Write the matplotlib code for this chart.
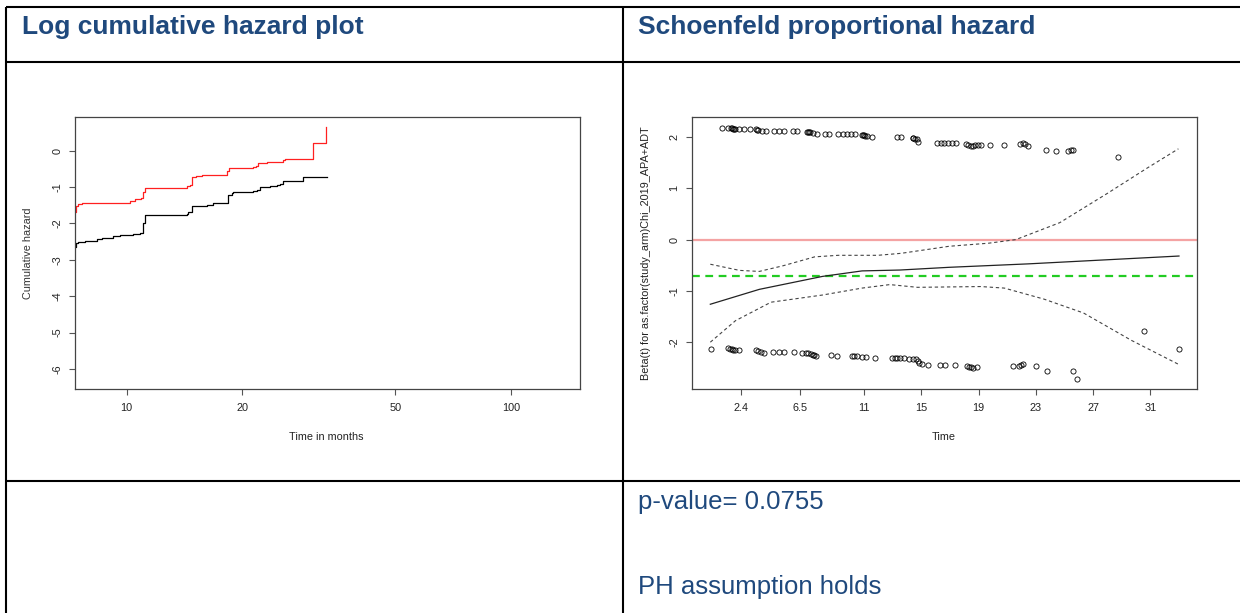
import matplotlib
matplotlib.use("Agg")
import matplotlib.pyplot as plt
from matplotlib.lines import Line2D
from matplotlib.ticker import FixedLocator, FixedFormatter, NullLocator

plt.rcParams['font.family'] = ['Liberation Sans', 'DejaVu Sans']

W, H = 1240, 613

# ---------------- data ----------------
# Log cumulative hazard (log scale time)
red_t = [7.32, 7.39, 7.49, 7.64, 8.62, 10.21, 10.52, 10.89, 11.02, 11.17, 12.98, 14.34, 14.63,
         14.78, 15.20, 15.69, 18.23, 18.52, 21.38, 21.70, 22.03, 23.15, 25.59, 25.85, 30.50, 33.04]
red_v = [-1.68, -1.525, -1.47, -1.452, -1.434, -1.388, -1.342, -1.30, -1.15, -1.039, -1.021, -0.975, -0.948,
         -0.719, -0.70, -0.673, -0.56, -0.490, -0.462, -0.42, -0.353, -0.307, -0.261, -0.234, 0.197, 0.636]
black_t = [7.32, 7.39, 7.49, 7.80, 8.37, 8.62, 9.24, 9.62, 10.42, 10.84, 11.02, 11.17, 14.34, 14.48, 14.78,
           16.17, 16.83, 17.51, 18.40, 18.77, 18.96, 21.38, 21.81, 22.25, 23.62, 24.59, 25.08, 25.59, 28.84, 33.31]
black_v = [-2.64, -2.55, -2.50, -2.48, -2.44, -2.39, -2.35, -2.32, -2.28, -2.26, -2.00, -1.77, -1.745, -1.68, -1.51,
           -1.49, -1.45, -1.43, -1.22, -1.16, -1.14, -1.10, -1.09, -1.00, -0.98, -0.95, -0.92, -0.84, -0.74, -0.74]
lch_xticks = [10, 20, 50, 100]
lch_yticks = [0, -1, -2, -3, -4, -5, -6]

# Schoenfeld residuals
upper_t = [1.06, 1.52, 1.69, 1.76, 1.83, 1.90, 2.00, 2.29, 2.62, 3.04, 3.46, 3.55, 3.60, 3.85, 4.15, 4.71,
           5.04, 5.41, 6.02, 6.34, 6.99, 7.05, 7.12, 7.23, 7.41, 7.74, 8.28, 8.58, 9.21, 9.51, 9.79, 10.09,
           10.39, 10.84, 10.92, 11.00, 11.07, 11.19, 11.54, 13.28, 13.56, 14.40, 14.45, 14.55, 14.68, 14.80,
           16.08, 16.36, 16.61, 16.89, 17.17, 17.41, 18.13, 18.29, 18.46, 18.60, 18.75, 18.94, 19.17, 19.80,
           20.78, 21.90, 22.09, 22.25, 22.48, 23.71, 24.41, 25.27, 25.44, 25.62, 28.72]
upper_v = [2.182, 2.182, 2.169, 2.17, 2.156, 2.15, 2.156, 2.156, 2.156, 2.156, 2.156, 2.14, 2.136, 2.117, 2.117, 2.117,
           2.117, 2.117, 2.117, 2.117, 2.104, 2.10, 2.095, 2.091, 2.072, 2.052, 2.065, 2.065, 2.052, 2.052, 2.052, 2.052,
           2.052, 2.039, 2.035, 2.03, 2.026, 2.019, 2.006, 1.994, 1.994, 1.99, 1.98, 1.97, 1.955, 1.91,
           1.877, 1.877, 1.877, 1.877, 1.877, 1.877, 1.857, 1.838, 1.825, 1.825, 1.838, 1.838, 1.838, 1.844,
           1.844, 1.857, 1.877, 1.857, 1.825, 1.747, 1.734, 1.728, 1.747, 1.747, 1.617]
lower_t = [0.31, 1.52, 1.64, 1.76, 1.87, 1.99, 2.27, 3.46, 3.62, 3.78, 4.04, 4.67, 5.06, 5.41, 6.13, 6.65,
           6.93, 7.11, 7.27, 7.41, 7.53, 7.62, 8.67, 9.09, 10.16, 10.30, 10.53, 10.84, 11.14, 11.75, 12.93,
           13.17, 13.33, 13.51, 13.79, 14.17, 14.45, 14.62, 14.75, 14.87, 15.03, 15.47, 16.31, 16.68, 17.38,
           18.22, 18.36, 18.47, 18.59, 18.92, 21.39, 21.85, 21.97, 22.08, 23.02, 23.81, 25.62, 25.86, 30.58, 33.03]
lower_v = [-2.126, -2.120, -2.126, -2.139, -2.152, -2.159, -2.159, -2.152, -2.172, -2.191, -2.204, -2.198, -2.198,
           -2.198, -2.198, -2.211, -2.204, -2.217, -2.230, -2.243, -2.256, -2.263, -2.250, -2.263, -2.263, -2.263,
           -2.276, -2.282, -2.295, -2.302, -2.302, -2.315, -2.315, -2.315, -2.315, -2.321, -2.328, -2.334, -2.360,
           -2.399, -2.432, -2.438, -2.438, -2.438, -2.438, -2.464, -2.477, -2.490, -2.510, -2.490, -2.464, -2.464,
           -2.451, -2.432, -2.464, -2.561, -2.561, -2.717, -1.78, -2.14]
fit_t = [0.26, 3.68, 8.10, 10.86, 13.5, 16.94, 22.46, 33.0]
fit_v = [-1.26, -0.97, -0.717, -0.61, -0.593, -0.54, -0.473, -0.32]
ci_up_t = [0.26, 2.3, 3.68, 5.34, 7.55, 9.2, 11.96, 13.6, 16.94, 19.7, 21.6, 24.67, 27.99, 30.75, 32.96]
ci_up_v = [-0.48, -0.60, -0.62, -0.51, -0.336, -0.306, -0.306, -0.267, -0.13, -0.07, 0.0, 0.33, 0.90, 1.39, 1.77]
ci_lo_t = [0.26, 2.02, 4.5, 8.1, 10.86, 12.8, 14.73, 19.15, 20.8, 23.57, 26.33, 29.65, 32.96]
ci_lo_v = [-2.0, -1.58, -1.22, -1.08, -0.945, -0.877, -0.93, -0.915, -0.945, -1.16, -1.43, -1.96, -2.43]
coef_line = -0.703
sch_xticks = [2.4, 6.5, 11, 15, 19, 23, 27, 31]
sch_xlabels = ["2.4", "6.5", "11", "15", "19", "23", "27", "31"]
sch_yticks = [2, 1, 0, -1, -2]

titles = ["Log cumulative hazard plot", "Schoenfeld proportional hazard"]
notes = ["p-value= 0.0755", "PH assumption holds"]

# ---------------- figure ----------------
fig = plt.figure(figsize=(W / 100, H / 100), dpi=100)
fig.patch.set_facecolor('white')


def fx(x):
    return x / W


def fy(y):
    return 1 - y / H


# table lines
lw_tab = 1.5
for (x0, y0, x1, y1) in [(6, 7, 1240, 7), (6, 62, 1240, 62), (6, 481, 1240, 481),
                         (6, 7, 6, 613), (623, 7, 623, 613)]:
    fig.add_artist(Line2D([fx(x0), fx(x1)], [fy(y0), fy(y1)], transform=fig.transFigure,
                          color='black', lw=lw_tab, solid_capstyle='butt'))

blue = '#1F497D'
fig.text(fx(21.5), fy(33.6), titles[0], fontsize=19, fontweight='bold', color=blue, va='baseline')
fig.text(fx(637.5), fy(33.6), titles[1], fontsize=19, fontweight='bold', color=blue, va='baseline')
fig.text(fx(637.8), fy(509), notes[0], fontsize=18.5, color=blue, va='baseline')
fig.text(fx(637.8), fy(594), notes[1], fontsize=18.5, color=blue, va='baseline')

tick_fs = 7.8
spine_col = '#444444'


def style_axes(ax):
    for s in ax.spines.values():
        s.set_color(spine_col)
        s.set_linewidth(0.9)
    ax.tick_params(axis='both', which='major', length=5.7 * 0.72, width=0.8, color='#555555',
                   labelsize=tick_fs, labelcolor='#222222')
    ax.tick_params(axis='x', pad=6)
    ax.tick_params(axis='y', pad=5)
    for lab in ax.get_yticklabels():
        lab.set_rotation(90)
        lab.set_va('center')


# Left: log cumulative hazard
ax1 = fig.add_axes([fx(75.1), fy(389.4), (580.5 - 75.1) / W, (389.4 - 116.5) / H])
ax1.set_xscale('log')
ax1.step(black_t, black_v, where='post', color='black', lw=0.9)
ax1.step(red_t, red_v, where='post', color='#FF2020', lw=0.9)
ax1.set_xlim(7.35, 151.7)
ax1.set_ylim(-6.56, 0.934)
ax1.xaxis.set_major_locator(FixedLocator(lch_xticks))
ax1.xaxis.set_major_formatter(FixedFormatter([str(v) for v in lch_xticks]))
ax1.xaxis.set_minor_locator(NullLocator())
ax1.set_yticks(lch_yticks)
ax1.set_yticklabels([str(v) for v in lch_yticks])
style_axes(ax1)
for lab in ax1.get_yticklabels():
    lab.set_rotation(90)
    lab.set_va('center')
fig.text(fx(326.6), fy(437), "Time in months", fontsize=tick_fs, color='#222222', ha='center', va='center')
fig.text(fx(28.5), fy(253), "Cumulative hazard", fontsize=tick_fs, color='#333333', ha='center', va='center',
         rotation=90)

# Right: Schoenfeld
ax2 = fig.add_axes([fx(692), fy(389.4), (1197.3 - 692) / W, (389.4 - 116.5) / H])
ax2.axhline(0, color='#F4A3A3', lw=1.6, zorder=1)
ax2.axhline(coef_line, color='#22CC22', lw=1.6, ls=(0, (3.5, 2.5)), zorder=2)
ax2.plot(upper_t, upper_v, 'o', ms=3.7, mfc='none', mec='black', mew=0.6, zorder=3)
ax2.plot(lower_t, lower_v, 'o', ms=3.7, mfc='none', mec='black', mew=0.6, zorder=3)
ax2.plot(fit_t, fit_v, color='#222222', lw=0.9, zorder=3)
ax2.plot(ci_up_t, ci_up_v, color='#444444', lw=0.8, ls=(0, (3, 2.5)), zorder=3)
ax2.plot(ci_lo_t, ci_lo_v, color='#444444', lw=0.8, ls=(0, (3, 2.5)), zorder=3)
ax2.set_xlim(-1.02, 34.28)
ax2.set_ylim(-2.92, 2.40)
ax2.set_xticks(sch_xticks)
ax2.set_xticklabels(sch_xlabels)
ax2.set_yticks(sch_yticks)
ax2.set_yticklabels([str(v) for v in sch_yticks])
style_axes(ax2)
for lab in ax2.get_yticklabels():
    lab.set_rotation(90)
    lab.set_va('center')
fig.text(fx(944), fy(437), "Time", fontsize=tick_fs, color='#222222', ha='center', va='center')
fig.text(fx(646), fy(253), "Beta(t) for as.factor(study_arm)Chi_2019_APA+ADT", fontsize=tick_fs,
         color='#222222', ha='center', va='center', rotation=90)

fig.savefig("out.png", dpi=100)
